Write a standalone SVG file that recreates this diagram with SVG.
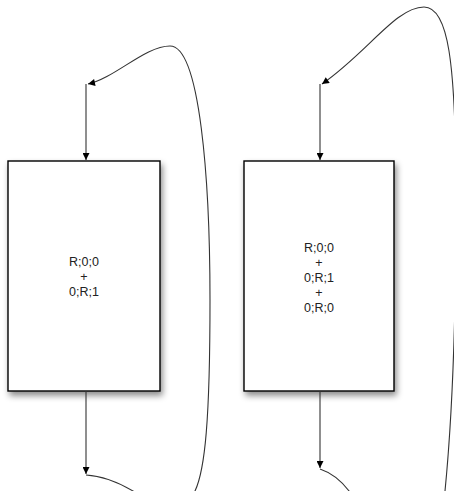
<svg xmlns="http://www.w3.org/2000/svg" width="454" height="491" viewBox="0 0 454 491">
<style>
.box{fill:#fff;stroke:#000;stroke-width:1.4;filter:url(#sh)}
.lbl{font-family:"Liberation Sans",Arial,sans-serif;font-size:12.5px;fill:#222;text-anchor:middle}
.conn{fill:none;stroke:#333;stroke-width:1.1}
.arr{marker-end:url(#ah)}
</style>
<defs>
<filter id="sh" x="-20%" y="-20%" width="140%" height="140%">
<feDropShadow dx="2" dy="4" stdDeviation="3" flood-color="#000" flood-opacity="0.45"/>
</filter>
<marker id="ah" viewBox="0 0 10 10" refX="10" refY="5" markerWidth="9" markerHeight="7" markerUnits="userSpaceOnUse" orient="auto">
<path d="M0,0 L10,5 L0,10 Z" fill="#000"/>
</marker>
</defs>
<g id="node-left">
<rect class="box" x="8" y="161" width="152" height="230"/>
<text class="lbl" x="84" y="266">R;0;0</text>
<text class="lbl" x="84" y="281">+</text>
<text class="lbl" x="84" y="296">0;R;1</text>
</g>
<g id="node-right">
<rect class="box" x="244" y="161" width="150" height="230"/>
<text class="lbl" x="319" y="252">R;0;0</text>
<text class="lbl" x="319" y="267">+</text>
<text class="lbl" x="319" y="282">0;R;1</text>
<text class="lbl" x="319" y="297">+</text>
<text class="lbl" x="319" y="312">0;R;0</text>
</g>
<g id="connectors">
<path class="conn arr" d="M86,84 L86,160"/>
<path class="conn arr" d="M86,391 L86,474"/>
<path class="conn arr" d="M86,475 C105,476 122,484 138,494 C160,510 190,510 195,491 C205,470 210,420 210,300 C210,180 200,46 170,46 C145,46 115,78 88,84"/>
<path class="conn arr" d="M320,84 L320,160"/>
<path class="conn arr" d="M320,391 L320,468"/>
<path class="conn arr" d="M320,469 C332,473 343,482 352,495 C370,520 440,525 445,491 C452,420 456,320 456,200 C456,60 448,7 424,7 C396,7 368,52 322,84"/>
</g>
</svg>
